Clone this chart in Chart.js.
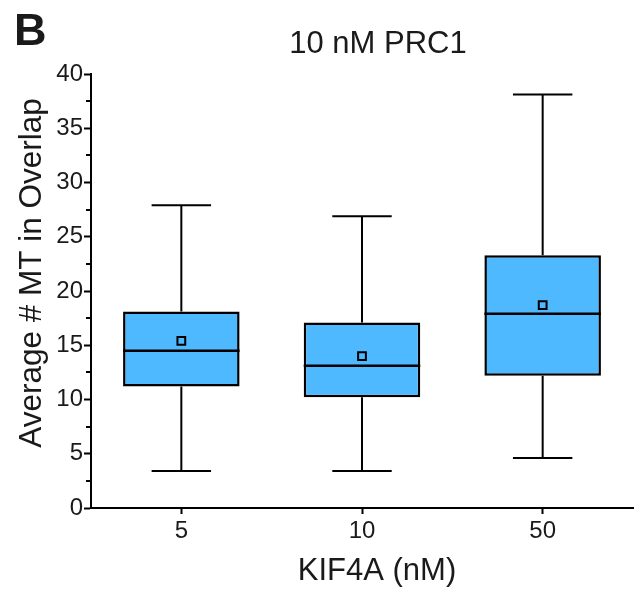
<!DOCTYPE html>
<html>
<head>
<meta charset="utf-8">
<script src="https://cdn.jsdelivr.net/npm/chart.js@4.4.1/dist/chart.umd.min.js"></script>
<style>
html,body{margin:0;padding:0;background:#fff;}
#wrap{width:636px;height:592px;position:relative;}
</style>
</head>
<body>
<div id="wrap"><canvas id="c" width="636" height="592"></canvas></div>
<script>
// ---- data ----
const categories = ['5', '10', '50'];
const whiskerLow = [3.4, 3.4, 4.6];
const q1 = [11.2, 10.2, 12.2];
const median = [14.5, 13.1, 17.9];
const q3 = [18.1, 17.1, 23.3];
const whiskerHigh = [27.9, 26.9, 38.1];
const mean = [15.4, 14.0, 18.7];
const yTicks = [0, 5, 10, 15, 20, 25, 30, 35, 40];

const title = '10 nM PRC1';
const panelLetter = 'B';
const xTitle = 'KIF4A (nM)';
const yTitle = 'Average # MT in Overlap';

const FONT = '"Liberation Sans", Arial, Helvetica, sans-serif';
const BOX_FILL = 'rgb(79,185,255)';

const boxPlugin = {
  id: 'boxParts',
  afterDatasetDraw(chart, args) {
    if (args.index !== 0) return;
    const ctx = chart.ctx;
    const y = chart.scales.y;
    const meta = chart.getDatasetMeta(0);
    ctx.save();
    ctx.strokeStyle = '#000';
    meta.data.forEach((bar, i) => {
      const cx = bar.x;
      const half = bar.width / 2;
      const capHalf = half * 0.51;
      ctx.lineWidth = 2;
      ctx.beginPath();
      ctx.moveTo(cx, y.getPixelForValue(q3[i]));
      ctx.lineTo(cx, y.getPixelForValue(whiskerHigh[i]));
      ctx.moveTo(cx, y.getPixelForValue(q1[i]));
      ctx.lineTo(cx, y.getPixelForValue(whiskerLow[i]));
      ctx.stroke();
      ctx.beginPath();
      const yh = y.getPixelForValue(whiskerHigh[i]);
      const yl = y.getPixelForValue(whiskerLow[i]);
      ctx.moveTo(cx - capHalf, yh); ctx.lineTo(cx + capHalf, yh);
      ctx.moveTo(cx - capHalf, yl); ctx.lineTo(cx + capHalf, yl);
      ctx.stroke();
      ctx.lineWidth = 2.5;
      ctx.beginPath();
      const ym = y.getPixelForValue(median[i]);
      ctx.moveTo(cx - half, ym); ctx.lineTo(cx + half, ym);
      ctx.stroke();
    });
    ctx.restore();
  },
  afterDraw(chart) {
    const ctx = chart.ctx;
    const y = chart.scales.y;
    const area = chart.chartArea;
    ctx.save();
    // minor ticks on y axis
    ctx.strokeStyle = '#000';
    ctx.lineWidth = 2;
    ctx.beginPath();
    for (let k = 0; k < yTicks.length - 1; k++) {
      const v = (yTicks[k] + yTicks[k + 1]) / 2;
      const py = Math.round(y.getPixelForValue(v));
      ctx.moveTo(area.left - 5, py);
      ctx.lineTo(area.left, py);
    }
    ctx.stroke();
    // texts
    ctx.fillStyle = '#1a1a1a';
    ctx.textBaseline = 'alphabetic';
    ctx.font = 'bold 45px ' + FONT;
    ctx.textAlign = 'left';
    ctx.fillText(panelLetter, 14, 45);
    ctx.font = '31px ' + FONT;
    ctx.textAlign = 'center';
    ctx.fillText(title, 378, 53);
    ctx.fillText(xTitle, 377, 580);
    ctx.font = '31.5px ' + FONT;
    ctx.translate(32, 273);
    ctx.rotate(-Math.PI / 2);
    ctx.textBaseline = 'middle';
    ctx.fillText(yTitle, 0, 0);
    ctx.restore();
  }
};

new Chart(document.getElementById('c'), {
  type: 'bar',
  data: {
    labels: categories,
    datasets: [
      {
        label: 'IQR',
        data: q1.map((v, i) => [v, q3[i]]),
        backgroundColor: BOX_FILL,
        borderColor: '#000',
        borderWidth: 2.5,
        borderSkipped: false,
        grouped: false,
        barPercentage: 0.645,
        categoryPercentage: 1,
        order: 2
      },
      {
        type: 'line',
        label: 'Mean',
        data: mean,
        showLine: false,
        pointStyle: 'rect',
        pointRadius: 5.5,
        pointBorderWidth: 2,
        pointBackgroundColor: BOX_FILL,
        pointBorderColor: '#000',
        order: 1
      }
    ]
  },
  options: {
    responsive: false,
    animation: false,
    events: [],
    layout: { autoPadding: false, padding: { top: 74, right: 3, left: 0, bottom: 0 } },
    plugins: { legend: { display: false }, tooltip: { enabled: false }, title: { display: false } },
    scales: {
      x: {
        offset: true,
        grid: { display: true, drawOnChartArea: false, drawTicks: true, tickLength: 6, tickWidth: 2, tickColor: '#000', offset: false },
        border: { display: true, width: 2, color: '#000' },
        ticks: { color: '#1a1a1a', font: { family: FONT, size: 24 }, padding: 3 },
        afterFit(s) { s.height = 84; }
      },
      y: {
        min: 0, max: 40,
        afterBuildTicks(s) { s.ticks = yTicks.map(v => ({ value: v })); },
        grid: { display: true, drawOnChartArea: false, drawTicks: true, tickLength: 7, tickWidth: 2, tickColor: '#000' },
        border: { display: true, width: 2, color: '#000' },
        ticks: { color: '#1a1a1a', font: { family: FONT, size: 24 }, padding: 1 },
        afterFit(s) { s.width = 91; }
      }
    }
  },
  plugins: [boxPlugin]
});
</script>
</body>
</html>
